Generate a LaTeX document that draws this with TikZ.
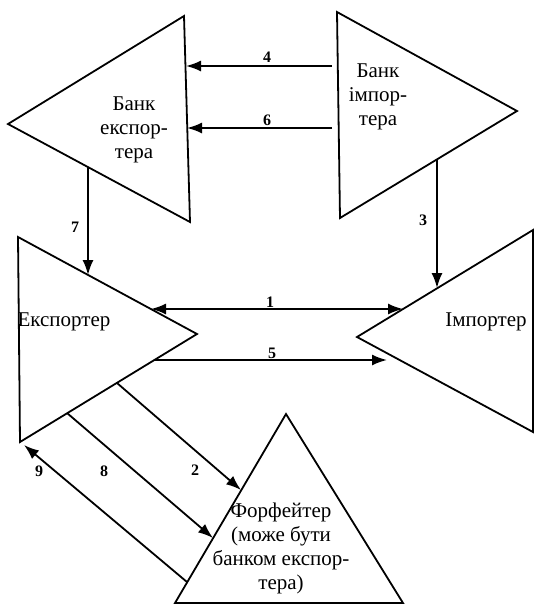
\documentclass[tikz,border=0pt]{standalone}
\usepackage{fontspec}
\setmainfont{Liberation Serif}
\usetikzlibrary{arrows.meta}

\begin{document}
\begin{tikzpicture}[x=0.5pt,y=-0.5pt,
    tri/.style={line width=0.9pt,line join=miter},
    arr/.style={line width=0.9pt,-{Latex[length=7.5pt,width=5.5pt]}},
    darr/.style={line width=0.9pt,{Latex[length=7.5pt,width=5.5pt]}-{Latex[length=7.5pt,width=5.5pt]}},
    txt/.style={align=center,font=\fontsize{10.5}{12}\selectfont,inner sep=0pt},
    lbl/.style={font=\footnotesize\bfseries,inner sep=1pt}]
    \useasboundingbox (0,0) rectangle (536,606);

    % Bank of exporter
    \coordinate (bex1) at (8,124);
    \coordinate (bex2) at (184,16);
    \coordinate (bex3) at (190,222);
    \draw[tri] (bex1) -- (bex2) -- (bex3) -- cycle;
    \node[txt] (bexT) at (134,130) {Банк\\експор-\\тера};

    % Bank of importer
    \coordinate (bim1) at (337,12);
    \coordinate (bim2) at (517,111);
    \coordinate (bim3) at (340,218);
    \draw[tri] (bim1) -- (bim2) -- (bim3) -- cycle;
    \node[txt] (bimT) at (378,97) {Банк\\імпор-\\тера};

    % Exporter
    \coordinate (ex1) at (18,237);
    \coordinate (ex2) at (197,334);
    \coordinate (ex3) at (20,442);
    \draw[tri] (ex1) -- (ex2) -- (ex3) -- cycle;
    \node[txt] (exT) at (64,322) {Експортер};

    % Importer
    \coordinate (im1) at (533,230);
    \coordinate (im2) at (357,337);
    \coordinate (im3) at (533,432);
    \draw[tri] (im1) -- (im2) -- (im3) -- cycle;
    \node[txt] (imT) at (486,322) {Імпортер};

    % Forfaiter
    \coordinate (ff1) at (286,414);
    \coordinate (ff2) at (403,603);
    \coordinate (ff3) at (175,603);
    \draw[tri] (ff1) -- (ff2) -- (ff3) -- cycle;
    \node[txt] (ffT) at (281,548) {Форфейтер\\(може бути\\банком експор-\\тера)};

    % Ends of arrows
    \coordinate (a1) at (151,309);  \coordinate (b1) at (403,309);
    \coordinate (a2) at (117,383);  \coordinate (b2) at (241,490);
    \coordinate (a3) at (437,159);  \coordinate (b3) at (437,288);
    \coordinate (a4) at (332,66);   \coordinate (b4) at (186,66);
    \coordinate (a5) at (154,360);  \coordinate (b5) at (387,360);
    \coordinate (a6) at (332,128);  \coordinate (b6) at (187,128);
    \coordinate (a7) at (88,167);   \coordinate (b7) at (88,275);
    \coordinate (a8) at (67,413);   \coordinate (b8) at (213,538);
    \coordinate (a9) at (187,582);  \coordinate (b9) at (24,445);

    % Arrows
    \draw[darr] (a1) -- (b1);
    \draw[arr] (a2) -- (b2);
    \draw[arr] (a3) -- (b3);
    \draw[arr] (a4) -- (b4);
    \draw[arr] (a5) -- (b5);
    \draw[arr] (a6) -- (b6);
    \draw[arr] (a7) -- (b7);
    \draw[arr] (a8) -- (b8);
    \draw[arr] (a9) -- (b9);

    % Labels
    \node[lbl] (l1) at (270,302) {1};
    \node[lbl] (l2) at (195,470) {2};
    \node[lbl] (l3) at (423,220) {3};
    \node[lbl] (l4) at (267,57) {4};
    \node[lbl] (l5) at (272,353) {5};
    \node[lbl] (l6) at (267,120) {6};
    \node[lbl] (l7) at (75,227) {7};
    \node[lbl] (l8) at (104,471) {8};
    \node[lbl] (l9) at (39,471) {9};
\end{tikzpicture}
\end{document}
